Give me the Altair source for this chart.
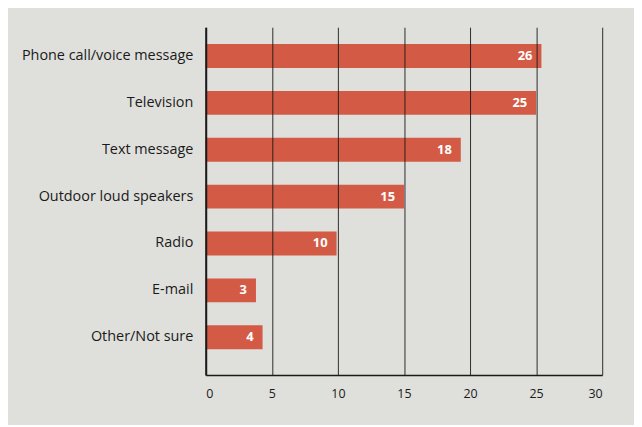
import altair as alt
import pandas as pd

categories = ["Phone call/voice message", "Television", "Text message",
              "Outdoor loud speakers", "Radio", "E-mail", "Other/Not sure"]
values = [25.4, 25.0, 19.3, 15.0, 9.9, 3.8, 4.3]
labels = ["26", "25", "18", "15", "10", "3", "4"]
x_ticks = [0, 5, 10, 15, 20, 25, 30]

df = pd.DataFrame({"cat": categories, "val": values, "lab": labels})

FONT = "Open Sans"
BAR = "#d35a45"
BG = "#dfe0dc"

y_enc = alt.Y("cat:N", sort=categories,
              scale=alt.Scale(paddingInner=0.49, paddingOuter=0.456, align=0.395),
              axis=alt.Axis(title=None, ticks=False, domain=True, domainColor="#1a1a1a",
                            domainWidth=2, labelPadding=13, labelFont=FONT,
                            labelFontSize=14.5, labelColor="#1a1a1a", grid=False,
                            zindex=1))
x_enc = alt.X("val:Q", scale=alt.Scale(domain=[0, 30], nice=False),
              axis=alt.Axis(title=None, values=x_ticks, ticks=False, domainColor="#1a1a1a",
                            domainWidth=1.5, grid=True, gridColor="#1a1a1a", gridWidth=1,
                            gridOpacity=0.9, labelFont=FONT, labelFontSize=12.5,
                            labelColor="#1a1a1a", labelPadding=13, zindex=1))

bars = alt.Chart(df).mark_bar(color=BAR).encode(x=x_enc, y=y_enc)
text = alt.Chart(df).mark_text(align="right", dx=-9, color="white", font=FONT,
                               fontWeight="bold", fontSize=13).encode(
    x="val:Q", y=alt.Y("cat:N", sort=categories), text="lab:N")

chart = (bars + text).properties(
    width=399, height=350, background=BG,
    padding={"left": 199, "top": 18, "right": 32, "bottom": 49},
    autosize=alt.AutoSizeParams(type="none"),
).configure_view(stroke=None)

chart.save("out.html", embed_options={"renderer": "svg", "actions": False})
